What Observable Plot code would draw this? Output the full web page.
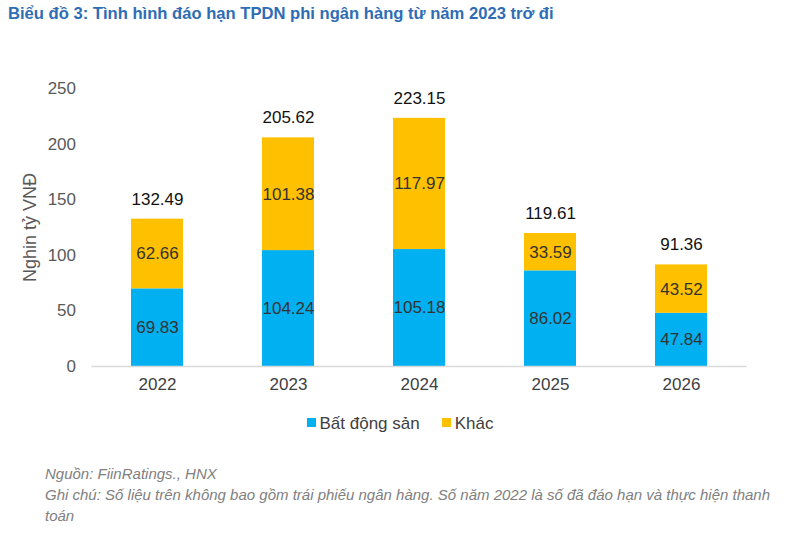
<!DOCTYPE html>
<html><head><meta charset="utf-8">
<script src="https://cdn.jsdelivr.net/npm/d3@7"></script>
<script src="https://cdn.jsdelivr.net/npm/@observablehq/plot@0.6"></script>
<style>
body{margin:0;background:#fff;font-family:"Liberation Sans",Arial,sans-serif;width:800px;height:539px;position:relative;overflow:hidden}
#title{position:absolute;left:8px;top:4px;font-size:16.6px;font-weight:bold;color:#2e6db4}
#chart{position:absolute;left:0;top:28px}
#legend{position:absolute;left:0;width:800px;top:414px;text-align:center;font-size:17px;color:#404040}
#legend span.sw{display:inline-block;width:9px;height:9px;margin-right:4px;vertical-align:middle;position:relative;top:-2px}
#legend span.it{margin:0 11px}
#caption{position:absolute;left:45px;top:463px;font-size:15px;font-style:italic;color:#808080;line-height:21px;letter-spacing:0px}
</style></head><body>
<div id="title">Biểu đồ 3: Tình hình đáo hạn TPDN phi ngân hàng từ năm 2023 trở đi</div>
<div id="chart"></div>
<div id="legend"></div>
<div id="caption">Nguồn: FiinRatings., HNX<br>Ghi chú: Số liệu trên không bao gồm trái phiếu ngân hàng. Số năm 2022 là số đã đáo hạn và thực hiện thanh<br>toán</div>
<script>
const years = ["2022","2023","2024","2025","2026"];
const series = ["Bất động sản","Khác"];
const batDongSan = [69.83,104.24,105.18,86.02,47.84];
const khac = [62.66,101.38,117.97,33.59,43.52];
const totals = [132.49,205.62,223.15,119.61,91.36];
const yTicks = [0,50,100,150,200,250];
const colors = ["#00b0f0","#ffc000"];

const data = [];
years.forEach((y,i)=>{
  data.push({year:y, series:series[0], value:batDongSan[i]});
  data.push({year:y, series:series[1], value:khac[i]});
});
const totalData = years.map((y,i)=>({year:y,total:totals[i]}));

const chart = Plot.plot({
  width: 800, height: 368,
  marginLeft: 91.5, marginRight: 53.5, marginTop: 60, marginBottom: 30,
  style:{fontFamily:'"Liberation Sans",Arial,sans-serif', fontSize:"17px", color:"#404040", background:"#fff"},
  x:{domain:years, paddingInner:0.6, paddingOuter:0.3, label:null},
  y:{domain:[0,250], label:null},
  color:{domain:series, range:colors},
  marks:[
    Plot.barY(data, Plot.stackY({x:"year", y:"value", fill:"series", z:"series", order:series})),
    Plot.text(data, Plot.stackY({x:"year", y:"value", z:"series", text:d=>d.value.toFixed(2), order:series, fill:"#333333", fontSize:17})),
    Plot.text(totalData, {x:"year", y:"total", text:d=>d.total.toFixed(2), dy:-20, fill:"#111111", fontSize:17}),
    Plot.ruleY([0], {stroke:"#d9d9d9", strokeWidth:1.5}),
    Plot.axisX({tickSize:0, tickPadding:11, fontSize:17, fill:"#404040", label:null}),
    Plot.axisY({ticks:yTicks, tickSize:0, tickPadding:16, fontSize:17, fill:"#595959", label:null}),
    Plot.text(["Nghin tỷ VNĐ"], {frameAnchor:"left", textAnchor:"middle", dx:-62, rotate:-90, fontSize:18, fill:"#595959"})
  ]
});
document.getElementById("chart").appendChild(chart);

const leg = document.getElementById("legend");
series.forEach((s,i)=>{
  const it = document.createElement("span");
  it.className="it";
  it.innerHTML = `<span class="sw" style="background:${colors[i]}"></span>${s}`;
  leg.appendChild(it);
});
</script>
</body></html>
